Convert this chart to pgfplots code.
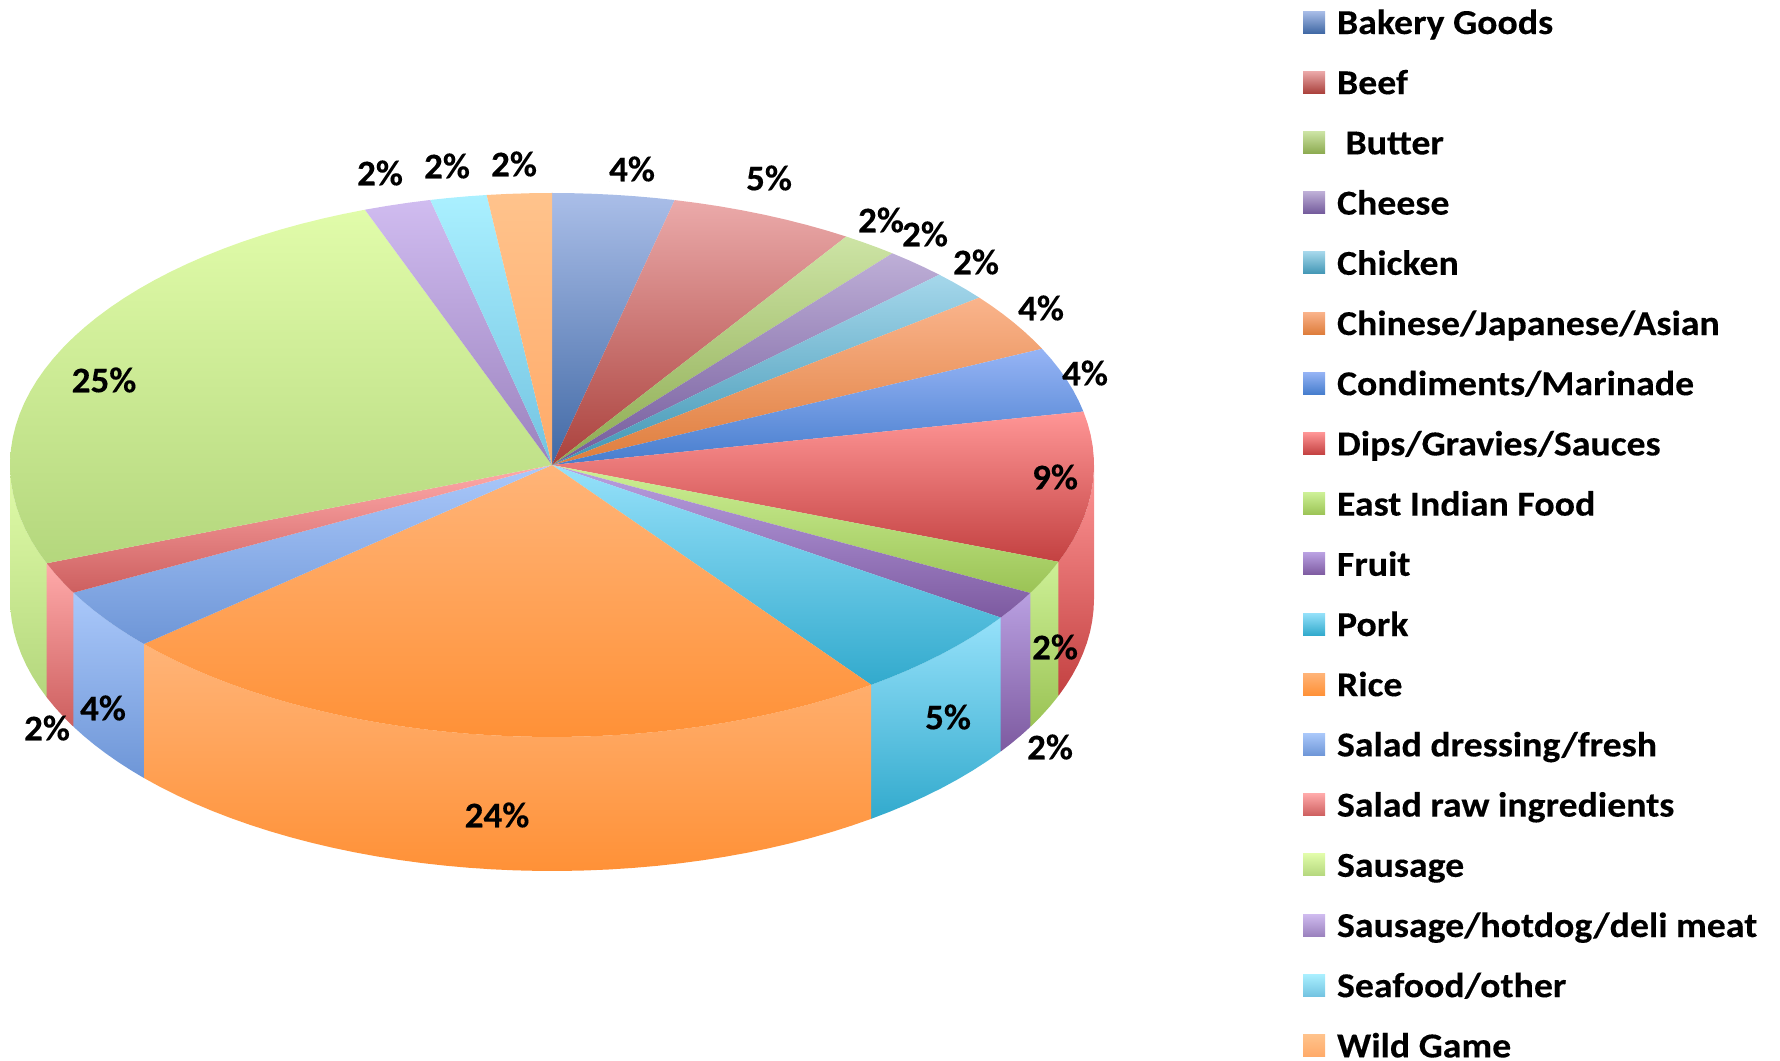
\documentclass[border=0pt]{standalone}
\usepackage{fontspec}
\setmainfont[FakeStretch=1.03,BoldFeatures={FakeBold=0.25}]{Carlito}
\newfontfamily\legendfont[FakeStretch=1.08,BoldFeatures={FakeBold=0.25}]{Carlito}
\usepackage{pgfplots}
\usepackage{pgfplotstable}
\pgfplotsset{compat=1.18}

% Shares in percent, with the centre of each percentage label (pixels from top left).
\pgfplotstableread[col sep=comma]{
name,share,lx,ly
Bakery Goods,3.63,632,169
Beef,5.49,769,178
\ Butter,1.67,881,220
Cheese,1.86,925,234
Chicken,1.78,976,262
Chinese/Japanese/Asian,3.52,1041,308
Condiments/Marinade,3.87,1085,373
Dips/Gravies/Sauces,8.93,1055,477
East Indian Food,2.00,1055,647
Fruit,1.68,1050,747
Pork,5.49,948,717
Rice,23.56,497,815
Salad dressing/fresh,3.65,103,708
Salad raw ingredients,1.89,47,728
Sausage,25.24,104,380
Sausage/hotdog/deli meat,2.00,380,173
Seafood/other,1.68,447,166
Wild Game,1.92,514,164
}\foodtable
\def\sharesum{99.86}

% Upper (T) and lower (B) gradient colour of each slice.
\definecolor{c0T}{RGB}{170,190,232}\definecolor{c0B}{RGB}{65,105,165}
\definecolor{c1T}{RGB}{235,170,170}\definecolor{c1B}{RGB}{170,65,60}
\definecolor{c2T}{RGB}{205,228,165}\definecolor{c2B}{RGB}{140,170,80}
\definecolor{c3T}{RGB}{190,175,215}\definecolor{c3B}{RGB}{115,90,155}
\definecolor{c4T}{RGB}{165,215,235}\definecolor{c4B}{RGB}{65,150,180}
\definecolor{c5T}{RGB}{250,180,140}\definecolor{c5B}{RGB}{222,125,60}
\definecolor{c6T}{RGB}{150,180,245}\definecolor{c6B}{RGB}{70,125,205}
\definecolor{c7T}{RGB}{255,150,150}\definecolor{c7B}{RGB}{195,65,65}
\definecolor{c8T}{RGB}{205,240,150}\definecolor{c8B}{RGB}{155,195,85}
\definecolor{c9T}{RGB}{185,160,225}\definecolor{c9B}{RGB}{125,90,160}
\definecolor{c10T}{RGB}{150,225,250}\definecolor{c10B}{RGB}{50,170,205}
\definecolor{c11T}{RGB}{255,180,120}\definecolor{c11B}{RGB}{255,145,55}
\definecolor{c12T}{RGB}{170,200,250}\definecolor{c12B}{RGB}{110,150,215}
\definecolor{c13T}{RGB}{255,170,170}\definecolor{c13B}{RGB}{205,95,95}
\definecolor{c14T}{RGB}{225,252,170}\definecolor{c14B}{RGB}{180,215,125}
\definecolor{c15T}{RGB}{208,188,240}\definecolor{c15B}{RGB}{155,130,190}
\definecolor{c16T}{RGB}{170,240,255}\definecolor{c16B}{RGB}{115,195,225}
\definecolor{c17T}{RGB}{255,195,140}\definecolor{c17B}{RGB}{255,170,105}

% Appends rim points from angle #1 to #2 (clockwise from the top), lowered by #3, to \pts.
\newcount\arcstep
\newcommand\appendarc[3]{%
  \pgfmathtruncatemacro\arcn{max(1,ceil(abs(#2-#1)/2.5))}%
  \arcstep=0
  \loop
    \pgfmathsetmacro\arct{#1+(#2-#1)*\the\arcstep/\arcn}%
    \pgfmathsetmacro\arcx{552+542*sin(\arct)}%
    \pgfmathsetmacro\arcy{595+272*cos(\arct)-#3}%
    \xdef\pts{\pts(\arcx,\arcy)}%
    \advance\arcstep by 1
  \ifnum\arcstep<\numexpr\arcn+1\relax\repeat
}
\newcommand\drawface[2]{%
  \addplot[draw=none,top color=c#1T,bottom color=c#1B,
    legend image code/.code={%
      \path[draw=none,top color=c#1T,bottom color=c#1B] (0pt,0.5pt) rectangle (11pt,11.5pt);
      \path (17pt,0.5pt);}]
    coordinates {#2};}
\newcommand\drawwall[2]{%
  \addplot[forget plot,draw=none,top color=c#1T,bottom color=c#1B]
    coordinates {#2};}

\begin{document}
\begin{tikzpicture}
\useasboundingbox (0,0) rectangle (890pt,530pt);
\begin{axis}[
  at={(0,0)},anchor=south west,
  scale only axis,width=890pt,height=530pt,
  xmin=0,xmax=1780,ymin=0,ymax=1060,
  hide axis,clip=false,
  legend style={
    at={(axis cs:1303,1054)},anchor=north west,
    draw=none,fill=none,inner sep=0pt,outer sep=0pt,
    row sep=16.1pt,
    font=\legendfont\fontsize{17.5}{20}\selectfont\bfseries,
    nodes={inner sep=0pt,text height=14pt,text depth=0pt},
    cells={anchor=base west},
  },
]
\gdef\tstart{0}
\pgfplotsinvokeforeach{0,...,17}{%
  \pgfplotstablegetelem{#1}{share}\of\foodtable
  \pgfmathsetmacro\tend{\tstart+\pgfplotsretval*360/\sharesum}%
  % the side wall shows only on the near half of the disc
  \pgfmathtruncatemacro\haswall{(\tstart<270)&&(\tend>90)}%
  \ifnum\haswall=1
    \pgfmathsetmacro\wa{max(\tstart,90)}%
    \pgfmathsetmacro\wb{min(\tend,270)}%
    \gdef\pts{}%
    \appendarc{\wa}{\wb}{0}%
    \appendarc{\wb}{\wa}{134}%
    \def\doit{\drawwall{#1}}%
    \expandafter\doit\expandafter{\pts}%
  \fi
  \gdef\pts{(552,595)}%
  \appendarc{\tstart}{\tend}{0}%
  \def\doit{\drawface{#1}}%
  \expandafter\doit\expandafter{\pts}%
  \pgfplotstablegetelem{#1}{name}\of\foodtable
  \expandafter\addlegendentry\expandafter{\pgfplotsretval}%
  \xdef\tstart{\tend}%
}
% percentage labels on top of every slice
\pgfplotsinvokeforeach{0,...,17}{%
  \pgfplotstablegetelem{#1}{share}\of\foodtable
  \pgfmathtruncatemacro\lab{round(\pgfplotsretval)}%
  \pgfplotstablegetelem{#1}{lx}\of\foodtable
  \let\lx\pgfplotsretval
  \pgfplotstablegetelem{#1}{ly}\of\foodtable
  \pgfmathsetmacro\ly{1060-\pgfplotsretval}%
  \edef\doit{\noexpand\node[font=\noexpand\fontsize{18}{20}\noexpand\selectfont\noexpand\bfseries,inner sep=0pt]
    at (axis cs:\lx,\ly) {\lab\noexpand\%};}%
  \doit
}
\end{axis}
\end{tikzpicture}
\end{document}
